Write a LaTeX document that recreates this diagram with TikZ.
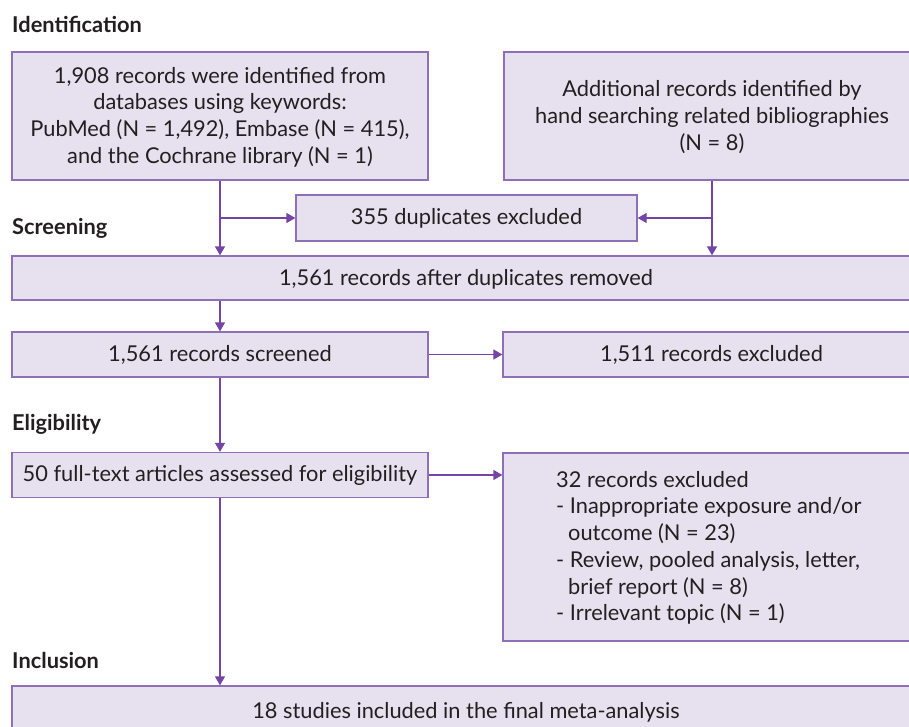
\documentclass[tikz,border=0pt]{standalone}
\usepackage{fontspec}
\setmainfont{Lato}
\usetikzlibrary{arrows.meta,positioning}
\definecolor{boxfill}{HTML}{E7E1EF}
\definecolor{boxline}{HTML}{8F70B8}
\definecolor{arr}{HTML}{7444A6}
\definecolor{txt}{HTML}{231F20}
\begin{document}
\begin{tikzpicture}[x=1pt,y=-1pt,
  box/.style={draw=boxline,fill=boxfill,line width=1.3pt,inner sep=0pt},
  lbl/.style={inner sep=0pt,text=txt,font=\fontsize{21.8}{26.7}\selectfont},
  head/.style={inner sep=0pt,anchor=west,text=txt,font=\fontsize{21.8}{26.7}\selectfont\bfseries},
  conn/.style={draw=arr,line width=1.3pt,-{Triangle[length=9pt,width=10pt]}},
  line/.style={draw=arr,line width=1.3pt}]
\useasboundingbox (0,0) rectangle (909,727);
\clip (0,0) rectangle (909,727);
% boxes
\node[box,minimum width=416pt,minimum height=128pt] (b1) at (220,116) {};
\node[box,minimum width=416pt,minimum height=128pt] (b2) at (712,116) {};
\node[box,minimum width=341pt,minimum height=46pt] (dup) at (466.5,218) {};
\node[box,minimum width=908pt,minimum height=44pt] (after) at (466,278) {};
\node[box,minimum width=416pt,minimum height=45pt] (scr) at (220,354.5) {};
\node[box,minimum width=417pt,minimum height=45pt] (exc1) at (711.5,354.5) {};
\node[box,minimum width=416pt,minimum height=45pt] (full) at (220,475) {};
\node[box,minimum width=417pt,minimum height=188pt] (exc2) at (711.5,547) {};
\node[box,minimum width=908pt,minimum height=80pt] (fin) at (466,726) {};
% texts
\node[lbl,align=center] (t1) at (220,117) {1,908 records were identified from\\databases using keywords:\\PubMed (N = 1,492), Embase (N = 415),\\and the Cochrane library (N = 1)};
\node[lbl,align=center] (t2) at (712,117) {Additional records identified by\\hand searching related bibliographies\\(N = 8)};
\node[lbl] (tdup) at (466.5,218) {355 duplicates excluded};
\node[lbl] (tafter) at (466,279) {1,561 records after duplicates removed};
\node[lbl] (tscr) at (220,355) {1,561 records screened};
\node[lbl] (texc1) at (711.5,355) {1,511 records excluded};
\node[lbl] (tfull) at (220,475) {50 full-text articles assessed for eligibility};
\node[lbl,align=left,anchor=north west] (texc2) at (556,471) {32 records excluded\\- Inappropriate exposure and/or\\\hspace*{12pt}outcome (N = 23)\\- Review, pooled analysis, letter,\\\hspace*{12pt}brief report (N = 8)\\- Irrelevant topic (N = 1)};
\node[lbl] (tfin) at (466,712) {18 studies included in the final meta-analysis};
% headings
\node[head] (h1) at (12,24) {Identification};
\node[head] (h2) at (12,228) {Screening};
\node[head] (h3) at (12,424) {Eligibility};
\node[head] (h4) at (12,660) {Inclusion};
% connectors
\coordinate (j1) at (b1.south |- dup.west);
\coordinate (j2) at (b2.south |- dup.east);
\draw[conn] (b1.south) -- (b1.south |- after.north);
\draw[conn] (j1) -- (dup.west);
\draw[conn] (b2.south) -- (b2.south |- after.north);
\draw[conn] (j2) -- (dup.east);
\draw[conn] (after.south -| scr.north) -- (scr.north);
\draw[conn] (scr.east) -- (exc1.west);
\draw[conn] (scr.south) -- (full.north);
\draw[conn] (full.east) -- (full.east -| exc2.west);
\draw[conn] (full.south) -- (full.south |- fin.north);
\end{tikzpicture}
\end{document}
